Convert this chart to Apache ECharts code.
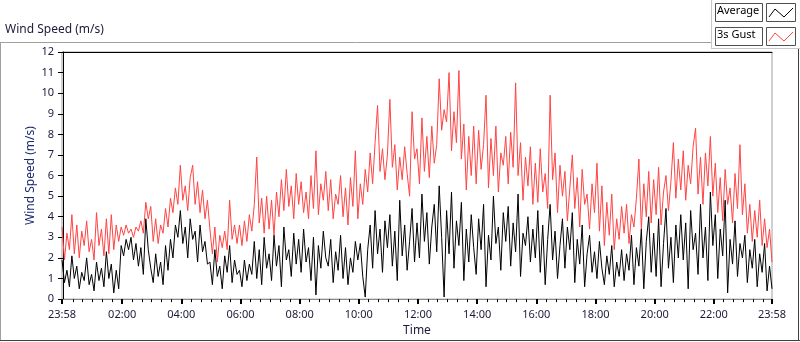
<!DOCTYPE html>
<html>
<head>
<meta charset="utf-8">
<script src="https://cdn.jsdelivr.net/npm/echarts@6/dist/echarts.min.js"></script>
<style>
    html, body { margin: 0; padding: 0; background: #fff; }
    #chart { width: 800px; height: 342px; }
</style>
</head>
<body>
<div id="chart"></div>
<script>
// 5 minute samples, from 23:58 (day before) to 23:58
var START_MIN = -2, STEP_MIN = 5;

var gust = [
    3.5, 1.9, 3.2, 2.4, 4.1, 2.2, 3.6, 2.0, 3.3, 2.6, 3.8, 2.3,
    2.9, 1.9, 4.2, 2.6, 3.4, 2.1, 3.9, 2.2, 4.1, 2.4, 3.6, 2.8,
    3.5, 3.1, 3.6, 3.2, 3.4, 3.0, 3.5, 3.3, 3.8, 3.2, 4.7, 3.9,
    4.5, 2.8, 3.9, 2.7, 3.6, 3.2, 4.4, 3.5, 4.9, 4.2, 5.4, 4.6,
    6.5, 4.8, 5.5, 4.3, 5.9, 6.5, 4.6, 5.7, 4.2, 5.3, 3.9, 4.8,
    3.4, 2.2, 3.5, 1.8, 3.1, 2.5, 3.3, 2.4, 4.8, 2.9, 3.6, 2.7,
    3.6, 2.6, 3.8, 2.8, 4.1, 3.3, 4.6, 6.9, 3.7, 4.9, 3.2, 5.0,
    3.4, 4.8, 3.1, 5.2, 4.0, 5.8, 4.3, 6.3, 4.5, 5.5, 3.9, 6.1,
    4.6, 5.7, 4.2, 5.2, 3.9, 6.0, 4.4, 7.2, 4.1, 5.6, 4.8, 6.2,
    4.3, 5.8, 3.9, 5.1, 4.6, 6.0, 4.0, 5.4, 3.6, 5.9, 4.5, 7.2,
    3.9, 5.6, 4.6, 6.3, 5.2, 7.1, 5.6, 7.6, 9.4, 6.2, 7.3, 5.8,
    7.0, 9.7, 6.4, 7.5, 5.3, 6.9, 5.8, 7.4, 6.1, 5.0, 9.1, 6.8,
    7.3, 5.6, 8.8, 6.2, 7.9, 5.9, 8.4, 6.6, 7.5, 10.7, 8.2, 9.2,
    8.6, 11.0, 7.2, 9.1, 7.6, 11.1, 6.8, 8.5, 5.3, 7.9, 6.0, 8.4,
    5.6, 8.2, 6.3, 7.5, 9.9, 5.4, 7.8, 6.0, 8.4, 5.2, 7.1, 6.5,
    7.9, 5.6, 8.1, 6.4, 10.5, 6.0, 7.6, 4.8, 6.9, 5.5, 7.4, 4.6,
    6.6, 4.7, 7.3, 5.2, 6.1, 4.4, 9.9, 5.8, 7.1, 4.2, 6.5, 5.0,
    6.2, 3.8, 5.4, 7.0, 4.4, 5.9, 3.5, 6.3, 4.6, 5.1, 3.4, 5.6,
    4.2, 6.6, 3.3, 5.5, 2.6, 4.7, 3.1, 5.1, 2.4, 3.9, 2.9, 4.5,
    3.2, 4.6, 2.7, 4.1, 3.5, 4.9, 6.8, 3.4, 5.6, 4.0, 6.2, 3.7,
    5.8, 4.1, 6.4, 3.6, 5.2, 6.0, 4.3, 5.7, 7.6, 4.9, 6.8, 5.3,
    7.2, 4.8, 6.5, 5.6, 7.4, 8.3, 5.1, 6.9, 4.6, 7.1, 5.5, 7.9,
    5.0, 6.6, 4.2, 5.9, 3.8, 6.3, 4.6, 5.4, 3.7, 6.1, 4.4, 7.5,
    4.1, 5.6, 3.2, 4.6, 2.8, 4.3, 3.0, 4.8, 2.6, 3.9, 2.5, 3.4,
    1.8
];

var average = [
    1.9, 0.8, 1.4, 0.6, 2.1, 1.0, 1.6, 0.5, 1.3, 0.9, 2.0, 0.7,
    1.2, 0.4, 1.8, 0.9, 1.5, 0.6, 2.3, 1.0, 1.7, 0.3, 1.4, 0.5,
    2.6, 2.1, 2.9, 2.4, 3.0, 1.9, 2.7, 1.6, 2.5, 1.2, 3.9, 2.4,
    1.5, 0.8, 2.2, 1.1, 1.8, 0.7, 2.6, 1.4, 2.9, 2.0, 3.6, 3.0,
    4.3, 2.7, 3.5, 2.0, 3.9, 2.9, 3.3, 1.8, 3.6, 2.3, 2.8, 1.7,
    1.8, 0.7, 2.4, 1.1, 1.6, 0.5, 2.1, 1.3, 2.6, 0.8, 1.9, 1.2,
    1.4, 0.6, 1.9, 0.9, 1.7, 1.2, 2.8, 1.0, 2.4, 0.7, 3.0, 1.5,
    2.2, 0.9, 3.1, 1.6, 2.6, 0.6, 3.5, 1.9, 2.4, 1.1, 3.2, 1.7,
    2.9, 1.3, 3.4, 1.8, 2.5, 0.9, 3.0, 0.2, 2.6, 1.5, 3.3, 2.0,
    1.6, 2.9, 0.8, 2.3, 1.4, 3.1, 1.0, 2.5, 0.7, 2.0, 1.3, 2.8,
    1.9, 2.7, 1.1, 0.1, 2.4, 3.6, 1.5, 4.3, 2.2, 3.4, 1.3, 3.8,
    2.5, 4.1, 1.6, 3.3, 0.9, 4.8, 2.1, 3.6, 1.4, 2.8, 4.4, 1.8,
    3.7, 2.0, 5.1, 2.8, 4.2, 1.7, 3.5, 4.6, 2.3, 5.5, 3.0, 0.1,
    4.3, 2.2, 5.2, 1.5, 3.8, 2.6, 4.7, 0.9, 3.4, 1.8, 4.1, 2.5,
    1.2, 3.9, 2.4, 4.6, 0.6, 3.1, 1.9, 5.0, 2.7, 3.5, 1.4, 4.2,
    2.8, 4.5, 1.6, 3.7, 2.3, 5.1, 1.1, 3.2, 2.6, 4.0, 1.8, 3.4,
    2.0, 4.3, 1.3, 3.6, 0.7, 2.9, 4.6, 1.9, 3.3, 1.0, 2.6, 3.9,
    1.5, 3.5, 2.4, 4.2, 0.8, 2.9, 1.7, 3.6, 0.6, 2.2, 3.1, 1.3,
    2.3, 1.0, 2.8, 1.5, 0.7, 2.1, 1.2, 2.6, 0.6, 1.8, 1.1, 2.4,
    0.9, 2.2, 1.4, 3.1, 0.7, 2.5, 1.6, 3.4, 0.5, 2.8, 4.0, 1.3,
    3.2, 1.1, 3.9, 0.6, 2.7, 4.4, 1.5, 3.0, 0.8, 3.6, 2.0, 4.1,
    1.9, 3.7, 0.5, 4.3, 2.4, 3.2, 1.2, 4.6, 2.0, 3.5, 0.9, 5.2,
    2.6, 4.1, 1.0, 3.4, 2.1, 4.8, 0.3, 2.9, 1.7, 3.8, 1.1, 2.7,
    2.0, 3.1, 0.8, 2.4, 1.5, 2.9, 0.6, 2.2, 1.3, 2.7, 0.4, 1.6,
    0.5
];

// axis labels (minutes after midnight)
var majorTicks = [-2, 120, 240, 360, 480, 600, 720, 840, 960, 1080, 1200, 1320, 1438];
var minorTicks = [];
for (var m = 20; m < 1438; m += 20) {
    if (m % 120 !== 0) minorTicks.push(m);
}

var minutes = gust.map(function (v, i) { return START_MIN + i * STEP_MIN; });

function fmtTime(v) {
    var t = (Math.round(v) + 1440) % 1440;
    var h = Math.floor(t / 60), mm = t % 60;
    return (h < 10 ? '0' : '') + h + ':' + (mm < 10 ? '0' : '') + mm;
}

var FONT = 'Noto Sans';
var chart = echarts.init(document.getElementById('chart'), null, { renderer: 'canvas' });

var option = {
    animation: false,
    grid: { left: 62, top: 52, right: 28, bottom: 40, show: true, borderColor: '#a0a0a0', borderWidth: 1, backgroundColor: '#fff' },
    xAxis: [
        {
            type: 'value', min: -2, max: 1438, position: 'bottom',
            name: 'Time', nameLocation: 'middle', nameGap: 24,
            nameTextStyle: { color: '#1a1a3a', fontFamily: FONT, fontSize: 12 },
            axisLine: { show: true, lineStyle: { color: '#8a8a8a', width: 1 } },
            axisTick: { show: true, customValues: majorTicks, length: 5, lineStyle: { color: '#000', width: 2 } },
            axisLabel: {
                customValues: majorTicks, margin: 10, color: '#1a1a3a', fontFamily: FONT, fontSize: 11,
                formatter: fmtTime, showMinLabel: true, showMaxLabel: true
            },
            splitLine: { show: false }
        },
        {
            type: 'value', min: -2, max: 1438, position: 'bottom',
            axisLine: { show: false },
            axisTick: { show: true, customValues: minorTicks, length: 3, lineStyle: { color: '#000', width: 1 } },
            axisLabel: { show: false },
            splitLine: { show: false }
        },
        {
            type: 'value', min: -2, max: 1438, position: 'top',
            axisLine: { show: true, lineStyle: { color: '#000', width: 1 } },
            axisTick: { show: false },
            axisLabel: { show: false },
            splitLine: { show: false }
        }
    ],
    yAxis: {
        type: 'value', min: 0, max: 12, interval: 1,
        name: 'Wind Speed (m/s)', nameLocation: 'middle', nameGap: 25, nameRotate: 90,
        nameMoveOverlap: false,
        nameTextStyle: { color: '#1c2a6e', fontFamily: FONT, fontSize: 12 },
        axisLine: { show: true, lineStyle: { color: '#000', width: 1 } },
        axisTick: { show: true, length: 5, lineStyle: { color: '#000' } },
        axisLabel: { margin: 8, color: '#1a1a3a', fontFamily: FONT, fontSize: 11 },
        splitLine: { show: false }
    },
    series: [
        {
            name: '3s Gust', type: 'line', xAxisIndex: 0,
            data: gust.map(function (v, i) { return [minutes[i], v]; }),
            showSymbol: false, sampling: null,
            lineStyle: { color: '#ff4444', width: 1 }, z: 2
        },
        {
            name: 'Average', type: 'line', xAxisIndex: 0,
            data: average.map(function (v, i) { return [minutes[i], v]; }),
            showSymbol: false, sampling: null,
            lineStyle: { color: '#000', width: 1 }, z: 3
        }
    ],
    graphic: [
        // outer frame
        { type: 'line', shape: { x1: 0, y1: 42.5, x2: 711, y2: 42.5 }, style: { stroke: '#a0a0a0', lineWidth: 1 } },
        { type: 'line', shape: { x1: 0.5, y1: 42, x2: 0.5, y2: 341 }, style: { stroke: '#a0a0a0', lineWidth: 1 } },
        { type: 'line', shape: { x1: 0, y1: 340.5, x2: 800, y2: 340.5 }, style: { stroke: '#404040', lineWidth: 1 } },
        { type: 'line', shape: { x1: 798.5, y1: 48, x2: 798.5, y2: 341 }, style: { stroke: '#404040', lineWidth: 1 } },
        { type: 'line', shape: { x1: 711.5, y1: 0, x2: 711.5, y2: 48 }, style: { stroke: '#c8c8c8', lineWidth: 1 } },
        { type: 'line', shape: { x1: 711, y1: 48.5, x2: 800, y2: 48.5 }, style: { stroke: '#c8c8c8', lineWidth: 1 } },
        // title
        { type: 'text', left: 5, top: 24, style: { text: 'Wind Speed (m/s)', fill: '#1a1a3a', font: '12px "Noto Sans"' } },
        // legend
        { type: 'rect', shape: { x: 715.5, y: 3.5, width: 47, height: 18 }, style: { fill: '#fff', stroke: '#505050', lineWidth: 1 } },
        { type: 'text', x: 717, y: 5, style: { text: 'Average', fill: '#000', font: '11px "Noto Sans"' } },
        { type: 'rect', shape: { x: 766.5, y: 3.5, width: 29, height: 18 }, style: { fill: '#fff', stroke: '#505050', lineWidth: 1 } },
        { type: 'polyline', shape: { points: [[769, 17], [775, 9], [784, 17], [793, 8]] }, style: { stroke: '#000', lineWidth: 1, fill: null } },
        { type: 'rect', shape: { x: 715.5, y: 27.5, width: 47, height: 18 }, style: { fill: '#fff', stroke: '#505050', lineWidth: 1 } },
        { type: 'text', x: 717, y: 29, style: { text: '3s Gust', fill: '#000', font: '11px "Noto Sans"' } },
        { type: 'rect', shape: { x: 766.5, y: 27.5, width: 29, height: 18 }, style: { fill: '#fff', stroke: '#505050', lineWidth: 1 } },
        { type: 'polyline', shape: { points: [[769, 41], [775, 33], [784, 41], [793, 32]] }, style: { stroke: '#ff4444', lineWidth: 1, fill: null } }
    ]
};

chart.setOption(option);
</script>
</body>
</html>
